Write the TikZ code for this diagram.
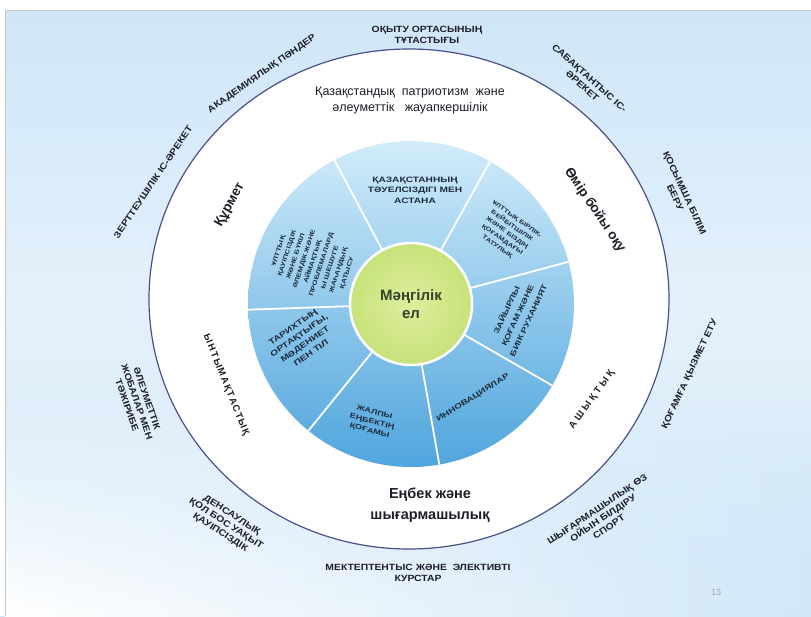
\documentclass[tikz,border=0pt]{standalone}
\usepackage{fontspec}
\setmainfont{Liberation Sans}
\newfontfamily\segfont[FakeStretch=1.3]{Liberation Sans}
\newfontfamily\outfont[FakeStretch=1.15]{Liberation Sans}
\newfontfamily\spacedfont[LetterSpace=15]{Liberation Sans}
\newfontfamily\widespacedfont[LetterSpace=30]{Liberation Sans}
\usetikzlibrary{calc,fadings}
\definecolor{bgtop}{HTML}{CFE6F8}
\definecolor{bgmid}{HTML}{E4F1FB}
\definecolor{bgbot}{HTML}{D2E8F8}
\definecolor{ringline}{HTML}{4B4F8C}
\definecolor{bluetop}{HTML}{D2ECFA}
\definecolor{bluemid}{HTML}{9DD2F1}
\definecolor{bluebot}{HTML}{4FA5DD}
\definecolor{greenin}{HTML}{DDEE9E}
\definecolor{greenout}{HTML}{C8E27A}
\definecolor{greentext}{HTML}{34432A}
\definecolor{segtext}{HTML}{1C2C3C}
\definecolor{outtext}{HTML}{1E1E28}
\tikzset{
  segtxt/.style={font=\segfont\bfseries\fontsize{7.8}{10.5}\selectfont, text=segtext, align=center, inner sep=0pt},
  segsmall/.style={font=\segfont\bfseries\fontsize{5.8}{8.5}\selectfont, text=segtext, align=center, inner sep=0pt},
  ringtxt/.style={font=\fontsize{12.5}{16}\selectfont, text=outtext, align=center, inner sep=0pt},
  ringbold/.style={font=\bfseries\fontsize{13.5}{16}\selectfont, text=outtext, align=center, inner sep=0pt},
  ringcaps/.style={font=\spacedfont\bfseries\fontsize{9.5}{11}\selectfont, text=outtext, align=center, inner sep=0pt},
  outtxt/.style={font=\outfont\bfseries\fontsize{9}{10.5}\selectfont, text=outtext, align=center, inner sep=0pt},
  divider/.style={white, line width=1.8pt}
}
\begin{document}
\begin{tikzpicture}[x=1pt,y=-1pt]
\useasboundingbox (0,0) rectangle (811,616);
% background
\shade[top color=bgtop, bottom color=bgbot, middle color=bgmid] (0,10) rectangle (811,616);
\shade[left color=white, right color=bgbot, path fading=north] (5,400) rectangle (811,616);
\fill[white] (0,0) rectangle (811,10);
\fill[white] (0,0) rectangle (5,616);
\draw[gray!45, line width=0.6pt] (5,616) -- (5,10) -- (811,10);
% outer ring
\draw[fill=white, draw=ringline, line width=1.2pt] (409,299) ellipse [x radius=260pt, y radius=250pt];
% blue disc
\coordinate (c) at (411,304);
\shade[top color=bluetop, middle color=bluemid, bottom color=bluebot] (c) circle[radius=163pt];
\foreach \a in {118,61,15,-30,-80,-129,182}
  \draw[divider] ($(c)+(\a:60pt)$) -- ($(c)+(\a:163pt)$);
\shadedraw[inner color=greenin, outer color=greenout, draw=white, line width=2.5pt] (c) circle[radius=61pt];
\node[font=\bfseries\fontsize{15}{18}\selectfont, text=greentext, align=center] (centre) at (c) {Мәңгілік\\ел};
% segments
\node[segtxt] (s1) at (415,190) {ҚАЗАҚСТАННЫҢ\\ТӘУЕЛСІЗДІГІ МЕН\\АСТАНА};
\node[segsmall, rotate=-35] (s2) at (507,233) {ҰЛТТЫҚ БІРЛІК,\\БЕЙБІТШІЛІК\\ЖӘНЕ БІЗДІҢ\\ҚОҒАМДАҒЫ\\ТАТУЛЫҚ};
\node[segtxt, font=\segfont\bfseries\fontsize{7.5}{12}\selectfont, rotate=65] (s3) at (517,315) {ЗАЙЫРЛЫ\\ҚОҒАМ ЖӘНЕ\\БИІК РУХАНИЯТ};
\node[segtxt, font=\segfont\bfseries\fontsize{7.5}{10}\selectfont, rotate=32] (s4) at (473,398) {ИННОВАЦИЯЛАР};
\node[segtxt, font=\segfont\bfseries\fontsize{7}{9.5}\selectfont, rotate=-15] (s5) at (372,422) {ЖАЛПЫ\\ЕҢБЕКТІҢ\\ҚОҒАМЫ};
\node[segtxt, rotate=35] (s6) at (302,340) {ТАРИХТЫҢ\\ОРТАҚТЫҒЫ,\\МӘДЕНИЕТ\\ПЕН ТІЛ};
\node[segsmall, font=\segfont\bfseries\fontsize{6}{9}\selectfont, rotate=72] (s7) at (313,262) {ҰЛТТЫҚ\\ҚАУІПСІЗДІК\\ЖӘНЕ БҮКІЛ\\ӘЛЕМДІК ЖӘНЕ\\АЙМАҚТЫҚ\\ПРОБЛЕМАЛАРД\\Ы ШЕШУГЕ\\ЖАҺАНДЫҚ\\ҚАТЫСУ};
% ring labels
\node[ringtxt] (r1) at (410,100) {Қазақстандық\ \ патриотизм\ \ және\\әлеуметтік\ \ \ жауапкершілік};
\node[ringbold, rotate=-56] (r2) at (595,210) {Өмір бойы оқу};
\node[ringcaps, font=\widespacedfont\bfseries\fontsize{9.5}{11}\selectfont, rotate=54] (r3) at (592,400) {АШЫҚТЫҚ};
\node[ringbold, font=\bfseries\fontsize{14.5}{21}\selectfont] (r4) at (430,505) {Еңбек және\\шығармашылық};
\node[ringcaps, rotate=-68] (r5) at (226,385) {ЫНТЫМАҚТАСТЫҚ};
\node[ringbold, rotate=61] (r6) at (230,205) {Құрмет};
% outer labels
\node[outtxt] (o1) at (427,35) {ОҚЫТУ ОРТАСЫНЫҢ\\ТҰТАСТЫҒЫ};
\node[outtxt, rotate=35] (o2) at (262,74) {АКАДЕМИЯЛЫҚ ПӘНДЕР};
\node[outtxt, rotate=56] (o3) at (153,182) {ЗЕРТТЕУШІЛІК ІС-ӘРЕКЕТ};
\node[outtxt, rotate=-42] (o4) at (586,82) {САБАҚТАНТЫС ІС-\\ӘРЕКЕТ};
\node[outtxt, rotate=-65] (o5) at (680,195) {ҚОСЫМША БІЛІМ\\БЕРУ};
\node[outtxt, rotate=65] (o6) at (690,374) {ҚОҒАМҒА ҚЫЗМЕТ ЕТУ};
\node[outtxt, rotate=34] (o7) at (603,518) {ШЫҒАРМАШЫЛЫҚ ӨЗ\\ОЙЫН БІЛДІРУ\\СПОРТ};
\node[outtxt] (o8) at (418,573) {МЕКТЕПТЕНТЫС ЖӘНЕ\ \ ЭЛЕКТИВТІ\\КУРСТАР};
\node[outtxt, rotate=-33] (o9) at (226,524) {ДЕНСАУЛЫҚ\\ҚОЛ БОС УАҚЫТ\\ҚАУІПСІЗДІК};
\node[outtxt, rotate=-71] (o10) at (137,402) {ӘЛЕУМЕТТІК\\ЖОБАЛАР МЕН\\ТӘЖІРИБЕ};
\node[font=\fontsize{9}{10}\selectfont, text=gray!70] (pg) at (716,592) {13};
\end{tikzpicture}
\end{document}
